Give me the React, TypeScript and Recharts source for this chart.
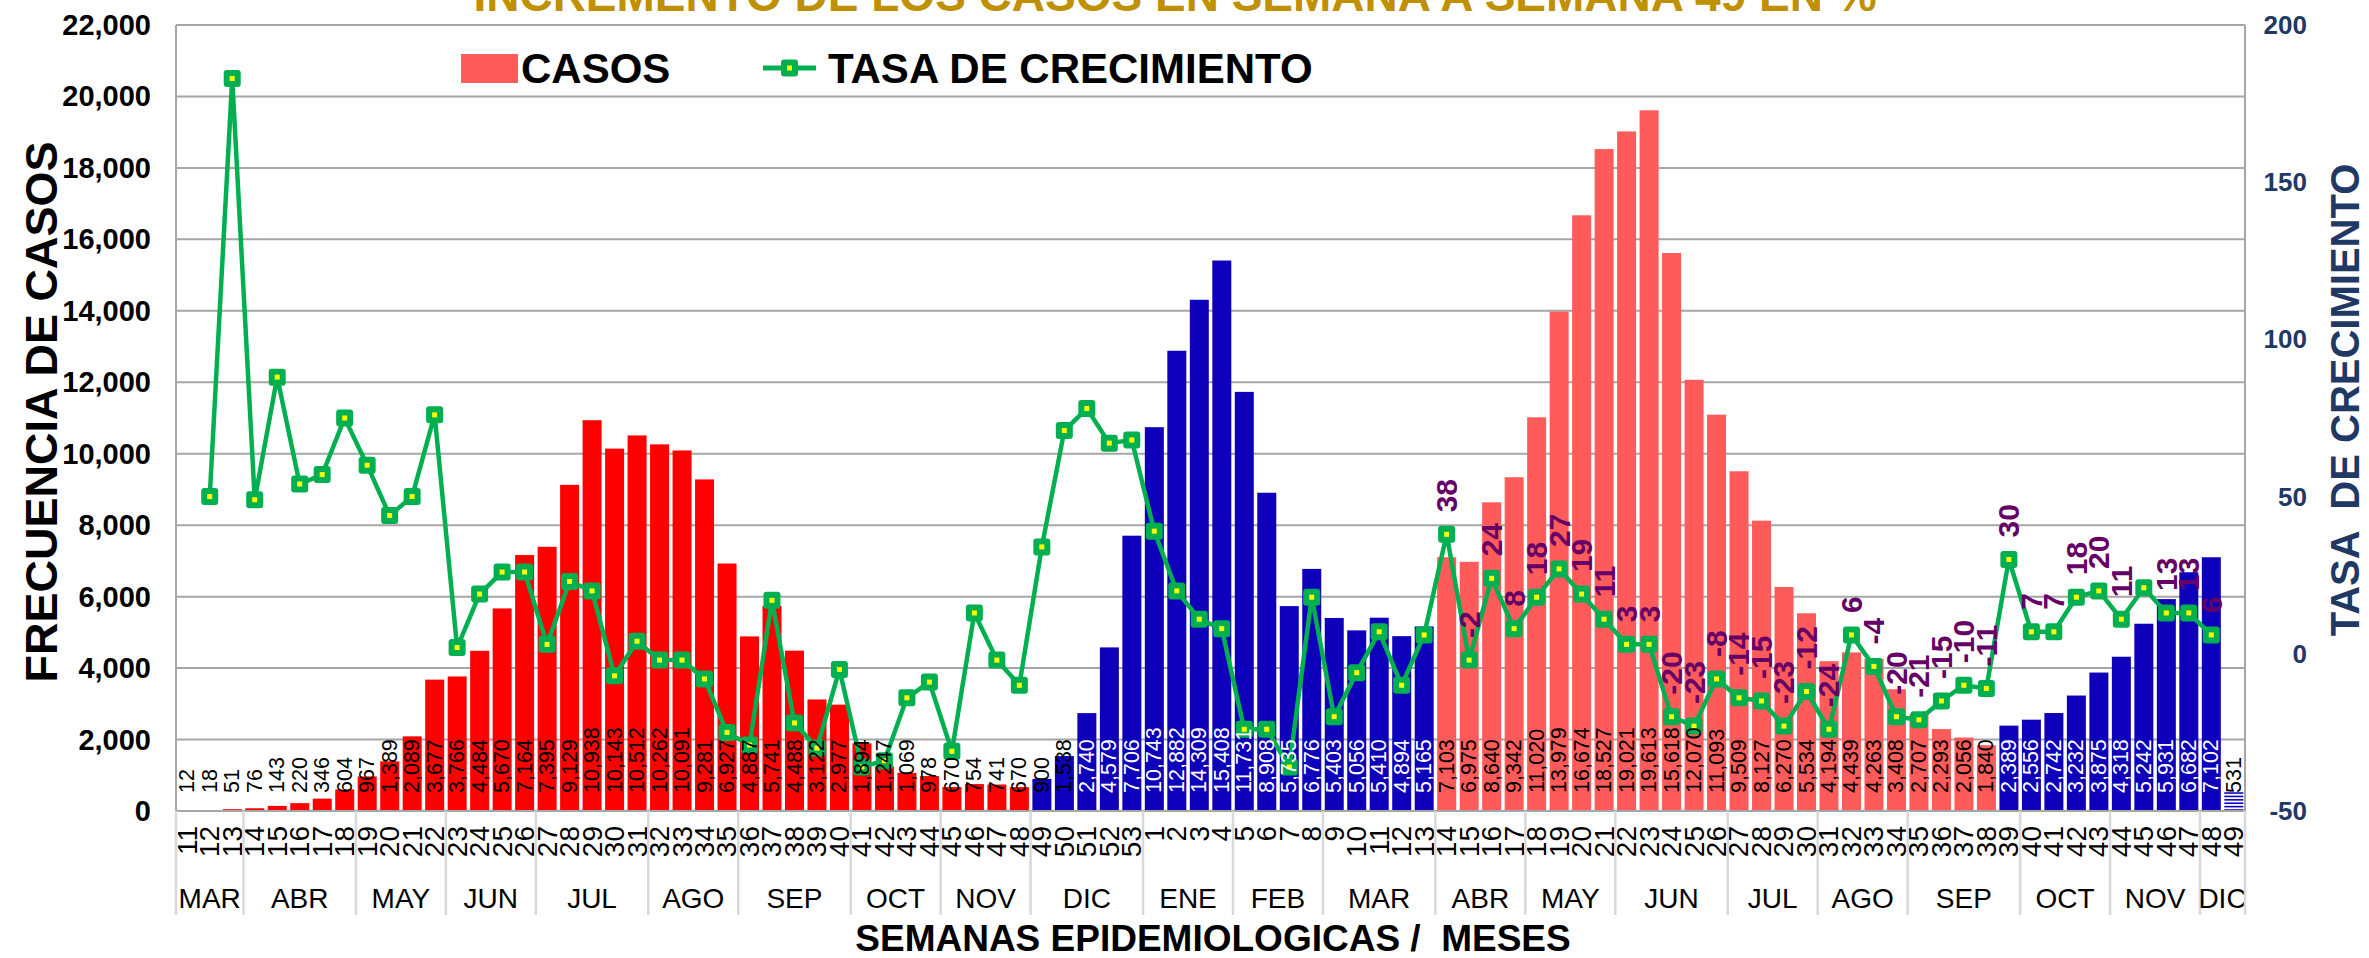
import React from 'react';
import { ComposedChart, Bar, Line, XAxis, YAxis, CartesianGrid, LabelList } from 'recharts';

const FONT = '"Liberation Sans", Arial, Helvetica, sans-serif';

// ---------- DATA ----------
const weekLabels = [
  '11','12','13','14','15','16','17','18','19','20','21','22','23','24','25','26','27','28','29','30',
  '31','32','33','34','35','36','37','38','39','40','41','42','43','44','45','46','47','48','49','50',
  '51','52','53',
  '1','2','3','4','5','6','7','8','9','10','11','12','13','14','15','16','17','18','19','20',
  '21','22','23','24','25','26','27','28','29','30','31','32','33','34','35','36','37','38','39','40',
  '41','42','43','44','45','46','47','48','49',
];

const casos = [
  12, 18, 51, 76, 143, 220, 346, 604, 967, 1389,
  2089, 3677, 3766, 4484, 5670, 7164, 7395, 9129, 10938, 10143,
  10512, 10262, 10091, 9281, 6927, 4887, 5741, 4488, 3122, 2977,
  1894, 1247, 1069, 978, 670, 754, 741, 670, 900, 1538,
  2740, 4579, 7706,
  10743, 12882, 14309, 15408, 11731, 8908, 5735, 6776, 5403, 5056,
  5410, 4894, 5165, 7103, 6975, 8640, 9342, 11020, 13979, 16674,
  18527, 19021, 19613, 15618, 12070, 11093, 9509, 8127, 6270, 5534,
  4194, 4439, 4263, 3408, 2707, 2293, 2056, 1840, 2389, 2556,
  2742, 3232, 3875, 4318, 5242, 5931, 6682, 7102, 531,
];

const tasa: (number | null)[] = [
  null, 50, 183, 49, 88, 54, 57, 75, 60, 44,
  50, 76, 2, 19, 26, 26, 3, 23, 20, -7,
  4, -2, -2, -8, -25, -29, 17, -22, -30, -5,
  -36, -34, -14, -9, -31, 13, -2, -10, 34, 71,
  78, 67, 68,
  39, 20, 11, 8, -24, -24, -36, 18, -20, -6,
  7, -10, 6, 38, -2, 24, 8, 18, 27, 19,
  11, 3, 3, -20, -23, -8, -14, -15, -23, -12,
  -24, 6, -4, -20, -21, -15, -10, -11, 30, 7,
  7, 18, 20, 11, 21, 13, 13, 6, null,
];

const monthLabels = ['MAR','ABR','MAY','JUN','JUL','AGO','SEP','OCT','NOV','DIC','ENE','FEB','MAR','ABR','MAY','JUN','JUL','AGO','SEP','OCT','NOV','DIC'];
const monthSpans = [3, 5, 4, 4, 5, 4, 5, 4, 4, 5, 4, 4, 5, 4, 4, 5, 4, 4, 5, 4, 4, 2];

const phaseNames = ['rojo', 'azul', 'coral', 'azul', 'rayado'];
const phaseLengths = [38, 18, 25, 10, 1];

const leftTicks = [0, 2000, 4000, 6000, 8000, 10000, 12000, 14000, 16000, 18000, 20000, 22000];
const rightTicks = [-50, 0, 50, 100, 150, 200];

const rateLabelStart = 56;
const rateLabelHidden = [87];

const TITLE = 'INCREMENTO DE LOS CASOS EN SEMANA A SEMANA 49 EN %';

// ---------- LAYOUT / STYLE ----------
const W = 2369;
const H = 958;
const PLOT_LEFT = 176;
const PLOT_RIGHT_GAP = 124;
const PLOT_TOP = 25;
const X_AXIS_H = 147;
const AXIS_Y = H - X_AXIS_H;
const STEP = (W - PLOT_LEFT - PLOT_RIGHT_GAP) / weekLabels.length;

const COLORS: Record<string, string> = {
  rojo: '#FF0000',
  azul: '#0E00BA',
  coral: '#FF5B5B',
  rayado: '#0E00BA',
};
const GRID = '#A6A6A6';
const SEP = '#D9D9D9';
const GREEN = '#00B050';
const NAVY = '#1F3864';
const PURPLE = '#660066';

// ---------- TABLE ----------
const phases: string[] = [];
phaseNames.forEach((p, i) => {
  for (let k = 0; k < phaseLengths[i]; k++) phases.push(p);
});

const monthStart: Record<number, { label: string; span: number }> = {};
{
  let acc = 0;
  monthLabels.forEach((m, i) => {
    monthStart[acc] = { label: m, span: monthSpans[i] };
    acc += monthSpans[i];
  });
}

const data = weekLabels.map((w, i) => ({
  key: `${i}-${w}`,
  week: w,
  casos: casos[i],
  tasa: tasa[i],
  phase: phases[i],
  showRate: i >= rateLabelStart && !rateLabelHidden.includes(i),
}));

// ---------- CUSTOM PARTS ----------
const WeekTick = (props: any) => {
  const { x, index } = props;
  const i = typeof index === 'number' ? index : props.payload?.index;
  const row = data[i];
  if (!row) return <g />;
  const ms = monthStart[i];
  return (
    <g>
      <text
        transform={`translate(${x},${AXIS_Y + 15}) rotate(-90)`}
        textAnchor="end"
        dominantBaseline="central"
        fontSize={28}
        fontFamily={FONT}
        fill="#000"
      >
        {row.week}
      </text>
      {ms && (
        <g>
          <line x1={x - STEP / 2} x2={x - STEP / 2} y1={AXIS_Y} y2={AXIS_Y + 104} stroke={SEP} strokeWidth={2.5} />
          <text
            x={x + ((ms.span - 1) * STEP) / 2}
            y={AXIS_Y + 87}
            textAnchor="middle"
            dominantBaseline="central"
            fontSize={28}
            fontFamily={FONT}
            fill="#000"
          >
            {ms.label}
          </text>
        </g>
      )}
      {i === data.length - 1 && (
        <line x1={x + STEP / 2} x2={x + STEP / 2} y1={AXIS_Y} y2={AXIS_Y + 104} stroke={SEP} strokeWidth={2.5} />
      )}
    </g>
  );
};

const RightTick = (props: any) => {
  const { x, y, payload } = props;
  return (
    <text x={x + 62} y={y} textAnchor="end" dominantBaseline="central" fontSize={26} fontWeight={700} fontFamily={FONT} fill={NAVY}>
      {payload.value}
    </text>
  );
};

const LeftTick = (props: any) => {
  const { x, y, payload } = props;
  return (
    <text x={x - 25} y={y} textAnchor="end" dominantBaseline="central" fontSize={29} fontWeight={700} fontFamily={FONT} fill="#000">
      {Number(payload.value).toLocaleString('en-US')}
    </text>
  );
};

const BarShape = (props: any) => {
  const { x, y, width, height, payload } = props;
  if (width == null || height == null || height <= 0) return <g />;
  const phase = payload?.phase;
  if (phase === 'rayado') {
    const lines = [];
    for (let yy = y + 1; yy < y + height; yy += 3.4) {
      lines.push(<line key={yy} x1={x} x2={x + width} y1={yy} y2={yy} stroke={COLORS.rayado} strokeWidth={1.6} />);
    }
    return <g>{lines}</g>;
  }
  return <rect x={x} y={y} width={width} height={height} fill={COLORS[phase] || COLORS.rojo} />;
};

const BarValueLabel = (props: any) => {
  const vb = props.viewBox || {};
  const x = props.x ?? vb.x;
  const y = props.y ?? vb.y;
  const width = props.width ?? vb.width;
  const height = props.height ?? vb.height;
  const { value, index } = props;
  if (value == null || x == null) return null;
  const row = data[index];
  const cx = x + width / 2;
  const base = y + height - 18;
  const fill = row && row.phase === 'azul' && value > 2000 ? '#FFFFFF' : '#000000';
  return (
    <text
      transform={`translate(${cx},${base}) rotate(-90)`}
      textAnchor="start"
      dominantBaseline="central"
      fontSize={21.5}
      fontFamily={FONT}
      fill={fill}
    >
      {Number(value).toLocaleString('en-US')}
    </text>
  );
};

const RateLabel = (props: any) => {
  const { x, y, value, index } = props;
  const row = data[index];
  if (!row || !row.showRate || value == null || x == null) return null;
  return (
    <text
      transform={`translate(${x},${y - 22}) rotate(-90)`}
      textAnchor="start"
      dominantBaseline="central"
      fontSize={30}
      fontWeight={700}
      fontFamily={FONT}
      fill={PURPLE}
    >
      {value}
    </text>
  );
};

const RateDot = (props: any) => {
  const { cx, cy, value, index } = props;
  if (value == null || cx == null || cy == null) return <g key={`d${index}`} />;
  return (
    <g key={`d${index}`}>
      <rect x={cx - 8.5} y={cy - 8.5} width={17} height={17} rx={3} fill={GREEN} />
      <rect x={cx - 2.5} y={cy - 2.5} width={5} height={5} fill="#FFFF00" />
    </g>
  );
};

export default function App() {
  return (
    <div style={{ position: 'absolute', left: 0, top: 0, width: W, height: H, background: '#fff', overflow: 'hidden' }}>
      <ComposedChart
        width={W}
        height={H}
        data={data}
        margin={{ top: PLOT_TOP, right: 0, bottom: 0, left: 0 }}
        barCategoryGap="8%"
      >
        <CartesianGrid yAxisId="left" vertical={false} stroke={GRID} strokeWidth={2} />
        <XAxis
          dataKey="key"
          height={X_AXIS_H}
          interval={0}
          tick={<WeekTick />}
          tickLine={false}
          tickSize={0}
          tickMargin={0}
          axisLine={{ stroke: GRID, strokeWidth: 2 }}
        />
        <YAxis
          yAxisId="left"
          width={PLOT_LEFT}
          domain={[0, 22000]}
          ticks={leftTicks}
          interval={0}
          tick={<LeftTick />}
          tickLine={false}
          tickSize={0}
          tickMargin={0}
          axisLine={{ stroke: GRID, strokeWidth: 2 }}
        />
        <YAxis
          yAxisId="right"
          orientation="right"
          width={PLOT_RIGHT_GAP}
          domain={[-50, 200]}
          ticks={rightTicks}
          interval={0}
          tick={<RightTick />}
          tickLine={false}
          tickSize={0}
          tickMargin={0}
          axisLine={{ stroke: GRID, strokeWidth: 2 }}
        />
        <Bar yAxisId="left" dataKey="casos" shape={<BarShape />} isAnimationActive={false}>
          <LabelList dataKey="casos" content={<BarValueLabel />} />
        </Bar>
        <Line
          yAxisId="right"
          dataKey="tasa"
          stroke={GREEN}
          strokeWidth={4.5}
          dot={(p: any) => <RateDot {...p} />}
          activeDot={false}
          isAnimationActive={false}
        >
          <LabelList dataKey="tasa" content={<RateLabel />} />
        </Line>
      </ComposedChart>

      <svg width={W} height={H} style={{ position: 'absolute', left: 0, top: 0, pointerEvents: 'none' }}>
        <text x={1175} y={11} textAnchor="middle" fontSize={46} fontWeight={700} fontFamily={FONT} fill="#BF9000">
          {TITLE}
        </text>
        {/* legend */}
        <rect x={461} y={54} width={57} height={29} fill={COLORS.coral} />
        <text x={521} y={83} fontSize={42} fontWeight={700} fontFamily={FONT} fill="#000">CASOS</text>
        <line x1={763} x2={816} y1={68} y2={68} stroke={GREEN} strokeWidth={5} />
        <rect x={781} y={59.5} width={17} height={17} rx={3} fill={GREEN} />
        <rect x={787} y={65.5} width={5} height={5} fill="#FFFF00" />
        <text x={828} y={83} fontSize={42} fontWeight={700} fontFamily={FONT} fill="#000">TASA DE CRECIMIENTO</text>
        {/* axis titles */}
        <text transform="translate(41,412) rotate(-90)" textAnchor="middle" dominantBaseline="central" fontSize={45} fontWeight={700} fontFamily={FONT} fill="#000">
          FRECUENCIA DE CASOS
        </text>
        <text transform="translate(2345,400) rotate(-90)" textAnchor="middle" dominantBaseline="central" fontSize={40} fontWeight={700} fontFamily={FONT} fill={NAVY} style={{ whiteSpace: 'pre' }}>
          {'TASA  DE CRECIMIENTO'}
        </text>
        <text x={1213} y={938} textAnchor="middle" dominantBaseline="central" fontSize={37} fontWeight={700} fontFamily={FONT} fill="#000" style={{ whiteSpace: 'pre' }}>
          {'SEMANAS EPIDEMIOLOGICAS /  MESES'}
        </text>
      </svg>
    </div>
  );
}
